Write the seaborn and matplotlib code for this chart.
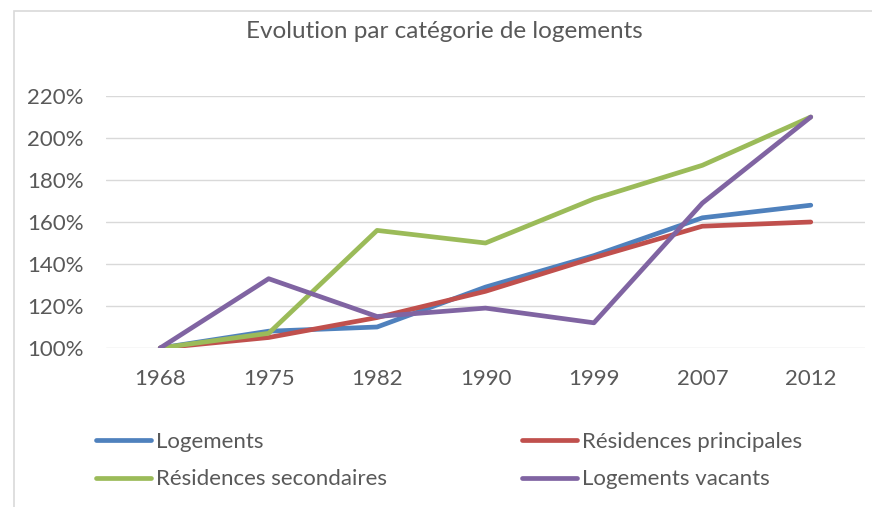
import pandas
import seaborn
import matplotlib
matplotlib.use("Agg")
import matplotlib.pyplot as pyplot
from matplotlib.patches import Rectangle
from matplotlib.ticker import FuncFormatter

seaborn.set_style("white")
pyplot.rcParams["font.family"] = ["Lato", "DejaVu Sans"]

# values (base 1968 = 100 %)
Years = ["1968", "1975", "1982", "1990", "1999", "2007", "2012"]
Logements = [100, 108, 110, 129, 144, 162, 168]
ResidencesPrincipales = [100, 105, 114.5, 127, 143, 158, 160]
ResidencesSecondaires = [100, 107, 156, 150, 171, 187, 210]
LogementsVacants = [100, 133, 115, 119, 112, 169, 210]

SeriesNames = ["Logements", "Résidences principales", "Résidences secondaires", "Logements vacants"]
SeriesColors = ["#4F81BD", "#C0504D", "#9BBB59", "#8064A2"]
YTicks = [100, 120, 140, 160, 180, 200, 220]

Data = pandas.DataFrame({
    "Annee": Years * 4,
    "Valeur": Logements + ResidencesPrincipales + ResidencesSecondaires + LogementsVacants,
    "Serie": [Name for Name in SeriesNames for Year in Years],
})

TextColor = "#595959"
GridColor = "#D9D9D9"

fig = pyplot.figure(figsize=(8.72, 5.07), dpi=100)
ax = fig.add_axes([106/872, 1 - 348/507, (865 - 106)/872, (348 - 96)/507])

seaborn.lineplot(data=Data, x="Annee", y="Valeur", hue="Serie", hue_order=SeriesNames,
                 palette=SeriesColors, linewidth=3.4, ax=ax, legend=False, sort=False)
for Line in ax.lines:
    Line.set_solid_capstyle("round")
    Line.set_solid_joinstyle("round")

ax.set_xlim(-0.5, 6.5)
ax.set_ylim(100, 220)
ax.set_yticks(YTicks)
ax.yaxis.set_major_formatter(FuncFormatter(lambda v, p: "%d%%" % v))
ax.grid(axis="y", color=GridColor, linewidth=1.0)
ax.grid(axis="x", visible=False)
ax.set_axisbelow(True)
for Spine in ax.spines.values():
    Spine.set_visible(False)
ax.tick_params(axis="y", length=0, pad=16, labelsize=16, labelcolor=TextColor)
ax.tick_params(axis="x", length=0, pad=15, labelsize=16, labelcolor=TextColor)
ax.set_xlabel("")
ax.set_ylabel("")

fig.text(0.510, 1 - 32/507, "Evolution par catégorie de logements", ha="center", va="center",
         fontsize=17.5, color=TextColor)

# legend: two columns drawn as two legends
Handles = {Name: Line for Name, Line in zip(SeriesNames, ax.lines)}
LegendStyle = dict(frameon=False, fontsize=16, handlelength=2.48, handletextpad=0.22,
                   labelspacing=0.78, labelcolor=TextColor, borderpad=0, borderaxespad=0,
                   loc="upper left")
LeftLegend = fig.legend([Handles[SeriesNames[0]], Handles[SeriesNames[2]]],
                        [SeriesNames[0], SeriesNames[2]],
                        bbox_to_anchor=(96/872, 1 - 432/507), **LegendStyle)
RightLegend = fig.legend([Handles[SeriesNames[1]], Handles[SeriesNames[3]]],
                         [SeriesNames[1], SeriesNames[3]],
                         bbox_to_anchor=(522/872, 1 - 432/507), **LegendStyle)

# chart frame (cut at right and bottom like the reference)
fig.patches.append(Rectangle((14/872, -0.2), 1.2, 1.2 - 11/507, transform=fig.transFigure,
                             fill=False, edgecolor=GridColor, linewidth=1.2))

fig.savefig("out.png", dpi=100)
